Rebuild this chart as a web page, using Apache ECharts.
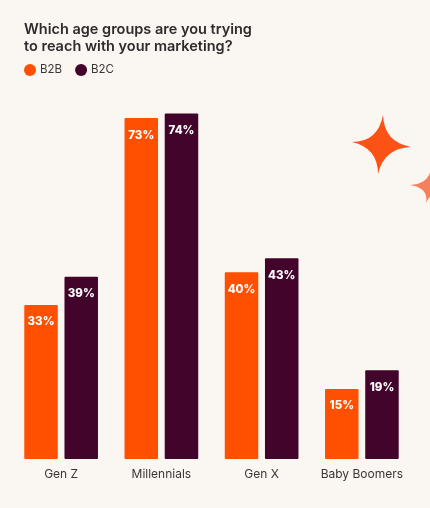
<!DOCTYPE html>
<html>
<head>
<meta charset="utf-8">
<style>
  html, body { margin: 0; padding: 0; background: #faf6f1; }
  #chartWrap { width: 430px; height: 508px; }
</style>
<script src="https://cdn.jsdelivr.net/npm/echarts@6/dist/echarts.min.js"></script>
</head>
<body>
<div id="chartWrap"></div>
<script>
var categories = ['Gen Z', 'Millennials', 'Gen X', 'Baby Boomers'];
var b2b = [33, 73, 40, 15];
var b2c = [39, 74, 43, 19];

var FONT = 'Inter';
var ORANGE = '#ff4f00';
var PLUM = '#42042a';

function makeSeries(name, values, color) {
  return {
    name: name,
    type: 'bar',
    data: values,
    barWidth: 33.5,
    barGap: '20%',
    itemStyle: { color: color, borderRadius: 1 },
    label: {
      show: true,
      position: 'insideTop',
      distance: 11,
      formatter: '{c}%',
      color: '#fff',
      fontFamily: FONT,
      fontWeight: 800,
      fontSize: 11.5
    }
  };
}

// 四角星，右边第二个被画布裁掉一部分
function registerStar(name, p) {
  var d = 'M' + p.t
    + 'Q' + (p.cx + p.o) + ' ' + (p.cy - p.o) + ' ' + p.r
    + 'Q' + (p.cx + p.o) + ' ' + (p.cy + p.o) + ' ' + p.b
    + 'Q' + (p.cx - p.o) + ' ' + (p.cy + p.o) + ' ' + p.l
    + 'Q' + (p.cx - p.o) + ' ' + (p.cy - p.o) + ' ' + p.t + 'Z';
  echarts.graphic.registerShape(name, echarts.graphic.extendPath(d, {}));
}
registerStar('starBig', { cx: 381, cy: 145, o: 3, t: '383 115', r: '411 147', b: '378 174', l: '352 142' });
registerStar('starSmall', { cx: 431, cy: 186, o: 2, t: '431 168', r: '450 186', b: '426 203', l: '410 185' });

var myChart = echarts.init(document.getElementById('chartWrap'));
myChart.setOption({
  backgroundColor: '#faf6f1',
  animation: false,
  title: {
    text: 'Which age groups are you trying\nto reach with your marketing?',
    left: 24,
    top: 21.5,
    padding: 0,
    textStyle: {
      color: '#2f2a2c',
      fontFamily: FONT,
      fontWeight: 600,
      fontSize: 14.5,
      lineHeight: 16.5
    }
  },
  legend: {
    data: ['B2B', 'B2C'],
    left: 24,
    top: 64,
    padding: 0,
    icon: 'circle',
    itemWidth: 12,
    itemHeight: 12,
    itemGap: 13,
    textStyle: { color: '#3a3537', fontFamily: FONT, fontSize: 11.5, padding: [0, 0, 0, -1] }
  },
  grid: { left: 11, right: 18, top: 85.4, bottom: 49 },
  xAxis: {
    type: 'category',
    data: categories,
    axisLine: { show: false },
    axisTick: { show: false },
    axisLabel: { interval: 0, hideOverlap: false, color: '#3a3537', fontFamily: FONT, fontSize: 12, margin: 9 }
  },
  yAxis: {
    type: 'value',
    min: 0,
    max: 80,
    show: false,
    splitLine: { show: false }
  },
  series: [makeSeries('B2B', b2b, ORANGE), makeSeries('B2C', b2c, PLUM)],
  graphic: {
    elements: [
      { type: 'starBig', silent: true, style: { fill: '#fb5216' } },
      { type: 'starSmall', silent: true, style: { fill: '#f5805c' } }
    ]
  }
});
</script>
</body>
</html>
